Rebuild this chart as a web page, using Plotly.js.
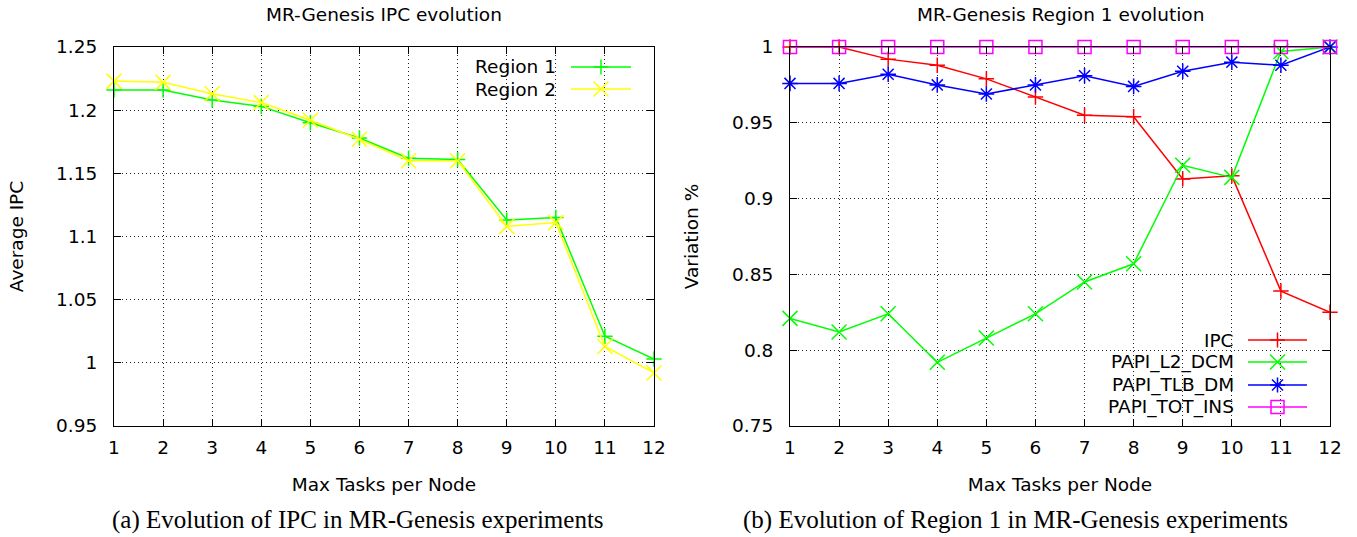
<!DOCTYPE html>
<html>
<head>
<meta charset="utf-8">
<script src="https://cdn.plot.ly/plotly-3.0.1.min.js"></script>
<style>
  html, body { margin: 0; padding: 0; background: #fff; }
  #chart { width: 1357px; height: 537px; }
</style>
</head>
<body>
<div id="chart"></div>
<script>
// ---------------- data ----------------
const tasks = [1, 2, 3, 4, 5, 6, 7, 8, 9, 10, 11, 12];

// (a) average IPC
const region1Ipc = [1.216, 1.216, 1.208, 1.203, 1.190, 1.178, 1.162, 1.161, 1.113, 1.115, 1.021, 1.003];
const region2Ipc = [1.223, 1.222, 1.213, 1.206, 1.192, 1.177, 1.160, 1.160, 1.108, 1.111, 1.013, 0.992];

// (b) Region 1 variation
const ipcVar   = [1.000, 1.000, 0.992, 0.988, 0.979, 0.967, 0.955, 0.954, 0.913, 0.915, 0.839, 0.825];
const l2Dcm    = [0.821, 0.812, 0.824, 0.792, 0.808, 0.824, 0.845, 0.857, 0.922, 0.914, 0.997, 1.000];
const tlbDm    = [0.976, 0.976, 0.982, 0.975, 0.969, 0.975, 0.981, 0.974, 0.984, 0.990, 0.988, 1.000];
const totIns   = [1, 1, 1, 1, 1, 1, 1, 1, 1, 1, 1, 1];

const leftNames  = ['Region 1', 'Region 2'];
const rightNames = ['IPC', 'PAPI_L2_DCM', 'PAPI_TLB_DM', 'PAPI_TOT_INS'];

const titles = ['MR-Genesis IPC evolution', 'MR-Genesis Region 1 evolution'];
const captions = ['(a) Evolution of IPC in MR-Genesis experiments',
                  '(b) Evolution of Region 1 in MR-Genesis experiments'];

// ---------------- styling ----------------
const FONT = 'DejaVu Sans';
const FS = 18.5;
const W = 1357, H = 537;
const M = {l: 114, r: 27, t: 47, b: 111};
const PW = W - M.l - M.r, PH = H - M.t - M.b;
const px = v => (v - M.l) / PW;
const py = v => (H - M.b - v) / PH;

const leftStyles = [
  {color: '#00ff00', symbol: 'cross-thin-open', size: 11, path: 'M-7.5,0H7.5M0,-7.5V7.5'},
  {color: '#ffff00', symbol: 'x-thin-open', size: 15, path: 'M-7.5,-7.5L7.5,7.5M-7.5,7.5L7.5,-7.5'}
];
const rightStyles = [
  {color: '#ff0000', symbol: 'cross-thin-open', size: 11, path: 'M-7.5,0H7.5M0,-7.5V7.5'},
  {color: '#00ff00', symbol: 'x-thin-open', size: 15, path: 'M-7.5,-7.5L7.5,7.5M-7.5,7.5L7.5,-7.5'},
  {color: '#0000ff', symbol: 'asterisk-open', size: 13, path: 'M-7.5,0H7.5M0,-7.5V7.5M-5.5,-5.5L5.5,5.5M-5.5,5.5L5.5,-5.5'},
  {color: '#ff00ff', symbol: 'square-open', size: 13, path: 'M-6.5,-6.5H6.5V6.5H-6.5Z'}
];

function mk(x, y, name, st, xa, ya) {
  return {
    type: 'scatter', mode: 'lines+markers', x: x, y: y, name: name,
    xaxis: xa, yaxis: ya, cliponaxis: false, showlegend: false,
    line: {color: st.color, width: 1.5},
    marker: {symbol: st.symbol, size: st.size, color: st.color,
             line: {color: st.color, width: 1.5}}
  };
}

const leftSeries = [region1Ipc, region2Ipc];
const rightSeries = [ipcVar, l2Dcm, tlbDm, totIns];
const traces = [];
leftSeries.forEach((s, i) => traces.push(mk(tasks, s, leftNames[i], leftStyles[i], 'x', 'y')));
rightSeries.forEach((s, i) => traces.push(mk(tasks, s, rightNames[i], rightStyles[i], 'x2', 'y2')));

const txt = {family: FONT, size: FS, color: '#000'};
const axBase = {
  showline: true, linecolor: '#000', linewidth: 1, mirror: 'allticks',
  ticks: 'inside', ticklen: 7, tickcolor: '#000', tickwidth: 1,
  showgrid: true, gridcolor: '#222', gridwidth: 1, griddash: '1px,3px',
  zeroline: false, tickfont: txt
};
const xBase = Object.assign({}, axBase, {
  range: [1, 12], tickmode: 'linear', tick0: 1, dtick: 1, ticklabelstandoff: 5,
  title: {text: 'Max Tasks per Node', font: txt, standoff: 20}
});

const annotations = [];
const shapes = [];
// titles
[[titles[0], 384], [titles[1], 1060]].forEach(([t, xc]) => annotations.push({
  text: t, xref: 'paper', yref: 'paper', x: px(xc), y: py(14), showarrow: false,
  xanchor: 'center', yanchor: 'middle', font: txt
}));
// captions
[[captions[0], 358], [captions[1], 1015]].forEach(([t, xc]) => annotations.push({
  text: t, xref: 'paper', yref: 'paper', x: px(xc), y: py(520), showarrow: false,
  xanchor: 'center', yanchor: 'middle', font: {family: 'Liberation Serif', size: 25, color: '#000'}
}));

// custom gnuplot-style keys (text left, sample right)
function key(names, styles, textRight, lineX0, lineX1, rows, box) {
  shapes.push({type: 'rect', xref: 'paper', yref: 'paper', layer: 'between',
    x0: px(box[0]), x1: px(box[1]), y0: py(box[3]), y1: py(box[2]),
    fillcolor: '#fff', line: {width: 0}});
  names.forEach((n, i) => {
    const st = styles[i];
    annotations.push({text: n, xref: 'paper', yref: 'paper', x: px(textRight), y: py(rows[i]),
      xanchor: 'right', yanchor: 'middle', showarrow: false, font: txt});
    shapes.push({type: 'line', xref: 'paper', yref: 'paper', layer: 'above',
      x0: px(lineX0), x1: px(lineX1), y0: py(rows[i]), y1: py(rows[i]),
      line: {color: st.color, width: 1.5}});
    shapes.push({type: 'path', xref: 'paper', yref: 'paper', layer: 'above',
      xsizemode: 'pixel', ysizemode: 'pixel',
      xanchor: px((lineX0 + lineX1) / 2), yanchor: py(rows[i]),
      path: st.path, line: {color: st.color, width: 1.5}});
  });
}
key(leftNames, leftStyles, 558, 571, 631, [67, 89], [468, 640, 55, 99]);
key(rightNames, rightStyles, 1236, 1248, 1307, [340, 362, 385, 407], [1100, 1316, 328, 426]);

const layout = {
  width: W, height: H, margin: M,
  paper_bgcolor: '#fff', plot_bgcolor: '#fff',
  showlegend: false,
  font: txt,
  xaxis: Object.assign({}, xBase, {domain: [0, 540 / PW], anchor: 'y'}),
  xaxis2: Object.assign({}, xBase, {domain: [676 / PW, 1], anchor: 'y2'}),
  yaxis: Object.assign({}, axBase, {
    domain: [0, 1], anchor: 'x', range: [0.95, 1.25], tickmode: 'linear', tick0: 0.95, dtick: 0.05,
    ticklabelstandoff: 12,
    title: {text: 'Average IPC', font: txt, standoff: 27}
  }),
  yaxis2: Object.assign({}, axBase, {
    domain: [0, 1], anchor: 'x2', range: [0.75, 1.0], tickmode: 'linear', tick0: 0.75, dtick: 0.05,
    ticklabelstandoff: 12,
    title: {text: 'Variation %', font: txt, standoff: 28}
  }),
  annotations: annotations,
  shapes: shapes
};

Plotly.newPlot('chart', traces, layout, {displayModeBar: false, staticPlot: true});
</script>
</body>
</html>
